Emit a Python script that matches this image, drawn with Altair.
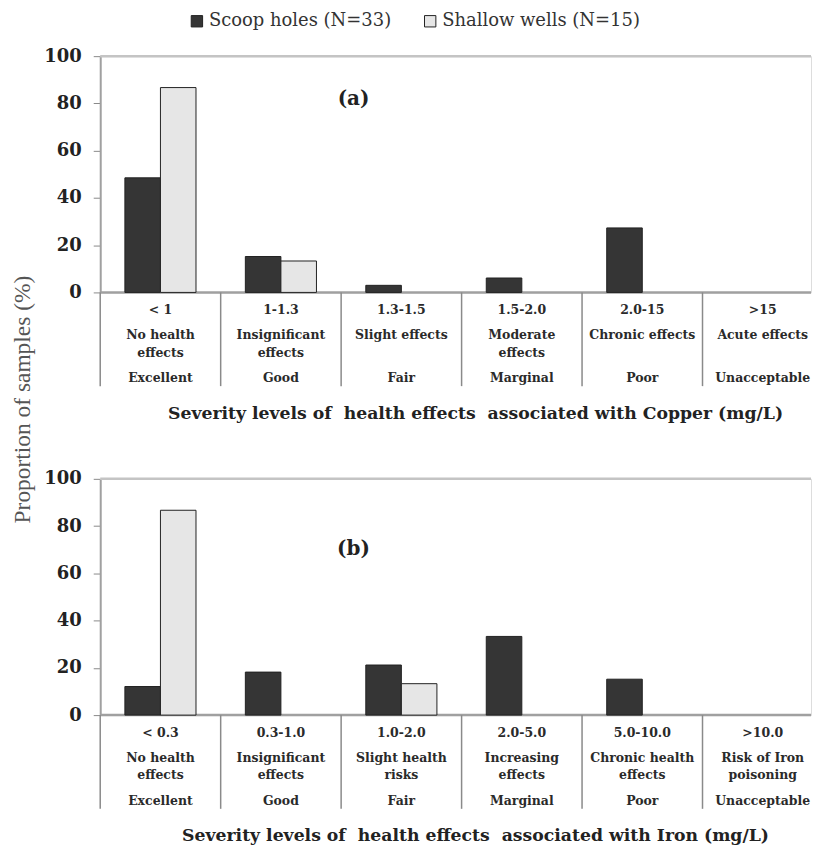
import altair as alt
import pandas as pd

# ---------------- data ----------------
series = ["Scoop holes (N=33)", "Shallow wells (N=15)"]
quality = ["Excellent", "Good", "Fair", "Marginal", "Poor", "Unacceptable"]

cu_ranges = ["< 1", "1-1.3", "1.3-1.5", "1.5-2.0", "2.0-15", ">15"]
cu_effects = ["No health|effects", "Insignificant|effects", "Slight effects",
              "Moderate|effects", "Chronic effects", "Acute effects"]
cu_scoop = [48.5, 15.2, 3.0, 6.1, 27.3, 0]
cu_shallow = [86.7, 13.3, 0, 0, 0, 0]

fe_ranges = ["< 0.3", "0.3-1.0", "1.0-2.0", "2.0-5.0", "5.0-10.0", ">10.0"]
fe_effects = ["No health|effects", "Insignificant|effects", "Slight health|risks",
              "Increasing|effects", "Chronic health|effects", "Risk of Iron|poisoning"]
fe_scoop = [12.1, 18.2, 21.2, 33.3, 15.2, 0]
fe_shallow = [86.7, 0, 13.3, 0, 0, 0]

SERIF = "Liberation Serif"
WIDE = "DejaVu Serif"
H = 237  # plot height


def panel(ranges, effects, scoop, shallow, tag, tag_y, xtitle, ytitle, ytitle_y):
    keys = ranges
    rows = []
    for k, a, b in zip(keys, scoop, shallow):
        rows.append({"cat": k, "series": series[0], "value": a})
        rows.append({"cat": k, "series": series[1], "value": b})
    df = pd.DataFrame(rows)
    lab = pd.DataFrame({"cat": keys, "eff": effects, "qual": quality})

    xscale = alt.Scale(domain=keys, range=[0, 725], paddingInner=0, paddingOuter=0)

    def X(f, **kw):
        return alt.X(f, sort=keys, scale=xscale, axis=None, **kw)

    yargs = dict(
        values=[0, 20, 40, 60, 80, 100], grid=False, tickSize=7, tickColor="#8a8a8a",
        domainColor="#a0a0a0", domainWidth=2, labelFont=WIDE, labelFontWeight="bold",
        labelFontSize=18, labelColor="#222", labelPadding=12,
    )
    if ytitle:
        y_axis = alt.Axis(title=ytitle, titleFont=SERIF, titleFontSize=23.5,
                          titleFontWeight="normal", titleColor="#555", titleX=-78,
                          titleY=ytitle_y, titleBaseline="middle", titleAngle=-90, **yargs)
    else:
        y_axis = alt.Axis(title=None, **yargs)

    yscale = alt.Scale(domain=[0, 100], nice=False)

    bars = alt.Chart(df).mark_bar(stroke="#222", strokeWidth=1).encode(
        x=X("cat:N"),
        xOffset=alt.XOffset("series:N", sort=series,
                            scale=alt.Scale(domain=series, paddingInner=0, paddingOuter=0.694)),
        y=alt.Y("value:Q", scale=yscale, axis=y_axis),
        color=alt.Color("series:N", sort=series,
                        scale=alt.Scale(domain=series, range=["#353535", "#e6e6e6"]),
                        legend=alt.Legend(title=None, orient="none", direction="horizontal",
                                          legendX=88, legendY=-44)),
    ).transform_filter("datum.value > 0")

    # category dividers hanging below the zero line
    dividers = alt.Chart(lab).mark_rule(color="#8a8a8a", strokeWidth=1.5).encode(
        x=X("cat:N", bandPosition=0), y=alt.datum(0), y2=alt.value(H + 94))

    txt = dict(baseline="top", align="center", font=WIDE, fontWeight="bold",
               fontSize=12.5, color="#2a2a2a")
    rng_text = alt.Chart(lab).mark_text(**txt).encode(
        x=X("cat:N"), y=alt.value(H + 12), text="cat:N")
    eff_text = alt.Chart(lab).mark_text(lineBreak="|", lineHeight=17.5, **txt).encode(
        x=X("cat:N"), y=alt.value(H + 37), text="eff:N")
    qual_text = alt.Chart(lab).mark_text(**txt).encode(
        x=X("cat:N"), y=alt.value(H + 80), text="qual:N")

    lines = alt.Chart(pd.DataFrame({"v": [0, 100], "c": ["#a0a0a0", "#c4c4c4"]})).mark_rule(
        strokeWidth=2.5).encode(y=alt.Y("v:Q"), color=alt.Color("c:N", scale=None))

    label = alt.Chart(pd.DataFrame({"t": [tag], "c": [keys[2]], "v": [tag_y]})).mark_text(
        font=WIDE, fontSize=20, fontWeight="bold", color="#222", dx=-48
    ).encode(x=X("c:N"), y=alt.Y("v:Q"), text="t:N")

    title = alt.TitleParams(text=xtitle, orient="bottom", anchor="middle", frame="group",
                            offset=18, dx=20, font=WIDE, fontSize=17.3,
                            fontWeight="bold", color="#222")

    return alt.layer(lines, dividers, bars, rng_text, eff_text, qual_text, label).properties(
        width=713, height=H, title=title)


top = panel(cu_ranges, cu_effects, cu_scoop, cu_shallow, "(a)", 82,
            "Severity levels of\u00a0 health effects\u00a0 associated with Copper (mg/L)",
            None, 0)
bottom = panel(fe_ranges, fe_effects, fe_scoop, fe_shallow, "(b)", 70.5,
               "Severity levels of\u00a0 health effects\u00a0 associated with Iron (mg/L)",
               "Proportion of samples (%)", -80)

chart = alt.vconcat(top, bottom, spacing=187, bounds="flush").properties(
    padding={"left": 1.5, "top": 3, "right": 0, "bottom": 0}
).configure_view(stroke=None).configure(background="white").configure_legend(
    padding=0, symbolType="square", symbolSize=130, symbolStrokeColor="#222",
    symbolStrokeWidth=1, labelFont=WIDE, labelFontSize=18, labelColor="#333",
    labelOffset=3, columnPadding=30, labelLimit=0, titlePadding=0
)

chart.save("out.html", embed_options={"renderer": "svg", "actions": False})
